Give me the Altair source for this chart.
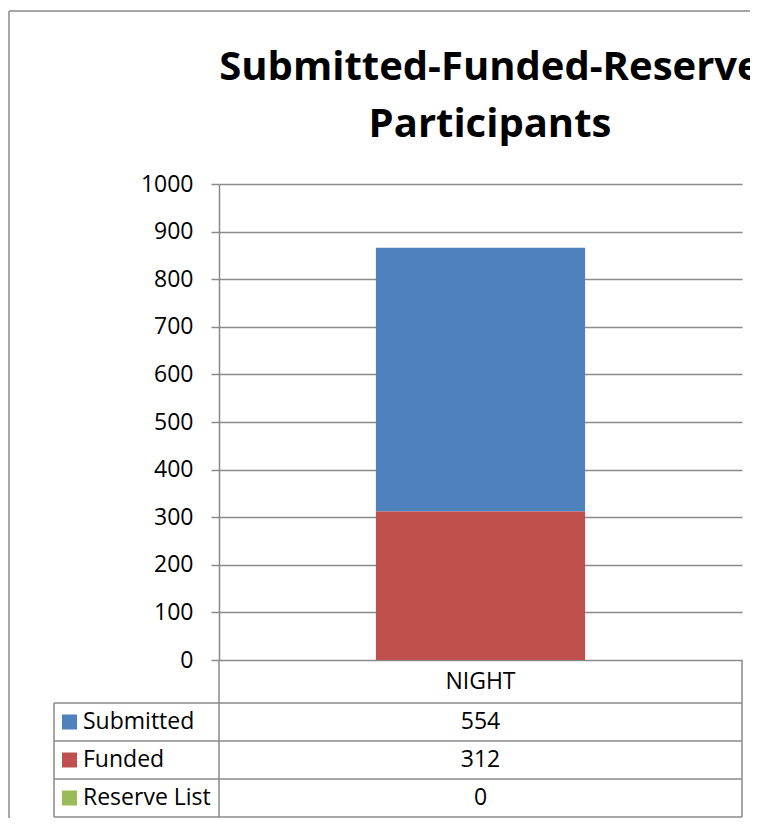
import altair as alt
import pandas as pd

title_lines = ["Submitted-Funded-Reserve", "Participants"]
categories = ["NIGHT"]
series = ["Submitted", "Funded", "Reserve List"]
values = [554, 312, 0]
colors = ["#4F81BD", "#C0504D", "#9BBB59"]
y_ticks = [0, 100, 200, 300, 400, 500, 600, 700, 800, 900, 1000]
stack_order = ["Funded", "Submitted", "Reserve List"]

df = pd.DataFrame({"Category": categories * len(series), "Series": series, "Value": values})

W, H = 523, 476
TB = 633  # table bottom (relative to plot top)
LINE = "#8a8a8a"
LW = 1.5
FONT = "Open Sans"
FS = 23

xenc = alt.X("Category:N", scale=alt.Scale(paddingInner=0, paddingOuter=0.75), axis=None)
color = alt.Color("Series:N", scale=alt.Scale(domain=series, range=colors), legend=None)

bars = alt.Chart(df).transform_calculate(
    ord="indexof(" + str(stack_order) + ", datum.Series)"
).mark_bar().encode(
    x=xenc,
    y=alt.Y("Value:Q", stack="zero", title=None,
            scale=alt.Scale(domain=[0, 1000], nice=False),
            axis=alt.Axis(values=y_ticks, grid=True, tickSize=8, labelPadding=18, format="d")),
    color=color,
    order=alt.Order("ord:Q"),
)

rowy = alt.Y("Series:N", sort=series, axis=None,
             scale=alt.Scale(range=[519, TB], paddingInner=0, paddingOuter=0))

vals = alt.Chart(df).mark_text(font=FONT, fontSize=FS, color="black", baseline="middle").encode(
    x=xenc, y=rowy, text="Value:Q")
labels = alt.Chart(df).mark_text(font=FONT, fontSize=FS, color="black", baseline="middle", align="left").encode(
    x=alt.value(-136), y=rowy, text="Series:N")
squares = alt.Chart(df).mark_square(size=225, opacity=1).encode(
    x=alt.value(-149.5), y=rowy, color=color)
header = alt.Chart(pd.DataFrame({"Category": categories})).mark_text(
    font=FONT, fontSize=FS, color="black", baseline="middle").encode(
    x=xenc, y=alt.value(497.5), text="Category:N")

title1 = alt.Chart(pd.DataFrame({"t": title_lines[:1]})).mark_text(
    font=FONT, fontSize=40, fontWeight="bold", color="black", baseline="alphabetic").encode(
    x=alt.value(271), y=alt.value(-104), text="t:N")
title2 = alt.Chart(pd.DataFrame({"t": title_lines[1:]})).mark_text(
    font=FONT, fontSize=40, fontWeight="bold", color="black", baseline="alphabetic").encode(
    x=alt.value(271), y=alt.value(-47), text="t:N")

one = alt.Data(values=[{}])
def rule(x, x2, y, y2, w=LW):
    return alt.Chart(one).mark_rule(color=LINE, strokeWidth=w).encode(
        x=alt.value(x), x2=alt.value(x2), y=alt.value(y), y2=alt.value(y2))

rules = [
    rule(0, 0, 476, TB),
    rule(W, W, 476, TB),
    rule(-165, -165, 519, TB),
    rule(-165, W, 519, 519),
    rule(-165, W, 519 + (TB - 519) / 3, 519 + (TB - 519) / 3),
    rule(-165, W, 519 + 2 * (TB - 519) / 3, 519 + 2 * (TB - 519) / 3),
    rule(-165, W, TB, TB),
    rule(-210, -210, -173, 640, 1.5),
    rule(-210, 545, -173, -173, 1.5),
]

chart = alt.layer(bars, vals, labels, squares, header, title1, title2, *rules).resolve_scale(
    y="independent"
).properties(
    width=W, height=H,
    autosize=alt.AutoSizeParams(type="none"),
    padding={"left": 211, "top": 176, "right": 8, "bottom": 158},
).configure_view(stroke=None).configure_axis(
    labelFont=FONT, labelFontSize=FS, labelColor="black",
    domainColor=LINE, tickColor=LINE, gridColor=LINE,
    domainWidth=LW, gridWidth=LW, tickWidth=LW,
)

chart.save("out.html", embed_options={"renderer": "svg", "actions": False})
